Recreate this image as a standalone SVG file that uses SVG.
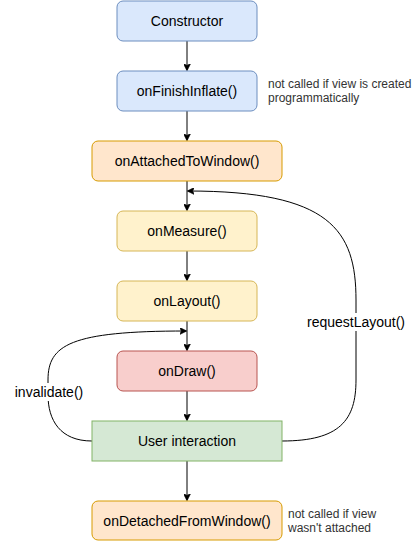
<svg xmlns="http://www.w3.org/2000/svg" width="417" height="541" viewBox="0 0 417 541">
<style>
.lbl{font-family:"Liberation Sans",Arial,sans-serif;font-size:14px;fill:#000;text-anchor:middle;dominant-baseline:central}
.note{font-family:"Liberation Sans",Arial,sans-serif;font-size:12px;fill:#333}
.e{fill:none;stroke:#000;stroke-width:1}
.blue{fill:#dae8fc;stroke:#6c8ebf}
.orange{fill:#ffe6cc;stroke:#d79b00}
.yellow{fill:#fff2cc;stroke:#d6b656}
.red{fill:#f8cecc;stroke:#b85450}
.green{fill:#d5e8d4;stroke:#82b366}
</style>
<defs>
<marker id="arr" viewBox="0 0 10 10" refX="9" refY="5" markerWidth="7" markerHeight="7" markerUnits="userSpaceOnUse" orient="auto">
<path d="M0,0 L10,5 L0,10 L2.5,5 Z" fill="#000" stroke="#000" stroke-width="1"/>
</marker>
</defs>
<rect width="417" height="541" fill="#fff"/>
<g id="connectors">
<path class="e" d="M187,41 V70" marker-end="url(#arr)"/>
<path class="e" d="M187,111 V140" marker-end="url(#arr)"/>
<path class="e" d="M187,181 V210" marker-end="url(#arr)"/>
<path class="e" d="M187,251 V280" marker-end="url(#arr)"/>
<path class="e" d="M187,321 V350" marker-end="url(#arr)"/>
<path class="e" d="M187,391 V420" marker-end="url(#arr)"/>
<path class="e" d="M187,461 V500" marker-end="url(#arr)"/>
<path class="e" d="M282,441 C340,441 356,420 356,380 L356,300 C356,230 330,191 188,191" marker-end="url(#arr)"/>
<path class="e" d="M92,441 C60,441 48,420 48,395 L48,380 C48,345 70,331 186,331" marker-end="url(#arr)"/>
<rect x="305" y="313" width="102" height="18" fill="#fff"/>
<text class="lbl" x="356" y="322">requestLayout()</text>
<rect x="14" y="383" width="70" height="18" fill="#fff"/>
<text class="lbl" x="49" y="392">invalidate()</text>
</g>
<g id="constructor"><rect class="blue" x="117" y="1" width="140" height="40" rx="6"/><text class="lbl" x="187" y="21">Constructor</text></g>
<g id="onFinishInflate"><rect class="blue" x="117" y="71" width="140" height="40" rx="6"/><text class="lbl" x="187" y="91">onFinishInflate()</text></g>
<g id="note1"><text class="note" x="268" y="87.5">not called if view is created</text><text class="note" x="268" y="102">programmatically</text></g>
<g id="onAttachedToWindow"><rect class="orange" x="92" y="141" width="190" height="40" rx="6"/><text class="lbl" x="187" y="161">onAttachedToWindow()</text></g>
<g id="onMeasure"><rect class="yellow" x="117" y="211" width="140" height="40" rx="6"/><text class="lbl" x="187" y="231">onMeasure()</text></g>
<g id="onLayout"><rect class="yellow" x="117" y="281" width="140" height="40" rx="6"/><text class="lbl" x="187" y="301">onLayout()</text></g>
<g id="onDraw"><rect class="red" x="117" y="351" width="140" height="40" rx="6"/><text class="lbl" x="187" y="371">onDraw()</text></g>
<g id="userInteraction"><rect class="green" x="92" y="421" width="190" height="40"/><text class="lbl" x="187" y="441">User interaction</text></g>
<g id="onDetachedFromWindow"><rect class="orange" x="92" y="501" width="190" height="39" rx="6"/><text class="lbl" x="187" y="521">onDetachedFromWindow()</text></g>
<g id="note2"><text class="note" x="288" y="517.5">not called if view</text><text class="note" x="288" y="532">wasn't attached</text></g>
</svg>
